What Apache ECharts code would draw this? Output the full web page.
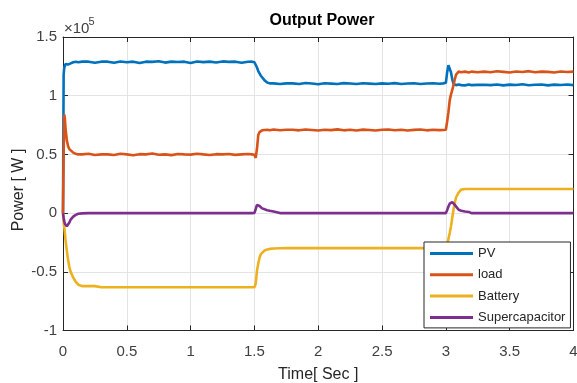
<!DOCTYPE html>
<html>
<head>
<meta charset="utf-8">
<script src="https://cdn.jsdelivr.net/npm/echarts@6/dist/echarts.min.js"></script>
<style>
  html, body { margin: 0; padding: 0; background: #ffffff; }
  #chart { width: 577px; height: 383px; }
</style>
</head>
<body>
<div id="chart"></div>
<script>
// Simulation time (s): start-up, 1.5 s load step, 3.0 s load step
const timeSec = [
  0, 0.005, 0.01, 0.015, 0.02, 0.03, 0.04, 0.05, 0.06, 0.08, 0.1, 0.12, 0.15, 0.2, 0.25, 0.3,
  0.35, 0.4, 0.45, 0.5, 0.55, 0.6, 0.65, 0.7, 0.75, 0.8, 0.85, 0.9, 0.95, 1.0, 1.05, 1.1, 1.15, 1.2, 1.25, 1.3, 1.35, 1.4, 1.45,
  1.48, 1.5, 1.51, 1.52, 1.53, 1.54, 1.55, 1.56, 1.58, 1.6, 1.62, 1.65, 1.7, 1.75,
  1.8, 1.85, 1.9, 1.95, 2.0, 2.05, 2.1, 2.15, 2.2, 2.25, 2.3, 2.35, 2.4, 2.45, 2.5, 2.55, 2.6, 2.65, 2.7, 2.75, 2.8, 2.85, 2.9, 2.95,
  2.98, 3.0, 3.01, 3.02, 3.03, 3.04, 3.05, 3.06, 3.07, 3.08, 3.1, 3.12, 3.15, 3.18, 3.2, 3.25,
  3.3, 3.35, 3.4, 3.45, 3.5, 3.55, 3.6, 3.65, 3.7, 3.75, 3.8, 3.85, 3.9, 3.95, 4.0
];

// Powers in units of 1e5 W
const pvPower = [
  0, 1.18, 1.24, 1.25, 1.27, 1.26, 1.265, 1.27, 1.275, 1.285, 1.29, 1.285, 1.29, 1.29, 1.28, 1.29,
  1.29, 1.28, 1.292, 1.285, 1.29, 1.278, 1.29, 1.288, 1.293, 1.282, 1.29, 1.287, 1.29, 1.279, 1.291, 1.286, 1.29, 1.283, 1.292, 1.288, 1.29, 1.28, 1.289,
  1.29, 1.285, 1.27, 1.24, 1.21, 1.19, 1.17, 1.155, 1.13, 1.112, 1.105, 1.105, 1.1, 1.105,
  1.105, 1.1, 1.108, 1.104, 1.098, 1.106, 1.103, 1.1, 1.107, 1.104, 1.099, 1.106, 1.103, 1.1, 1.105, 1.102, 1.107, 1.1, 1.104, 1.106, 1.099, 1.104, 1.106, 1.102,
  1.105, 1.11, 1.2, 1.26, 1.245, 1.2, 1.14, 1.1, 1.085, 1.09, 1.095, 1.09, 1.088, 1.095, 1.09, 1.092,
  1.093, 1.09, 1.096, 1.088, 1.094, 1.091, 1.097, 1.089, 1.093, 1.095, 1.088, 1.094, 1.091, 1.096, 1.09
];

const loadPower = [
  0, 0.5, 0.84, 0.8, 0.72, 0.62, 0.57, 0.545, 0.53, 0.515, 0.505, 0.5, 0.5, 0.505, 0.495, 0.5,
  0.5, 0.495, 0.505, 0.5, 0.493, 0.502, 0.5, 0.507, 0.497, 0.5, 0.494, 0.503, 0.5, 0.498, 0.506, 0.5, 0.495, 0.502, 0.5, 0.504, 0.496, 0.5, 0.503,
  0.5, 0.497, 0.47, 0.55, 0.665, 0.69, 0.7, 0.705, 0.708, 0.71, 0.705, 0.712, 0.706, 0.71,
  0.71, 0.705, 0.712, 0.708, 0.703, 0.71, 0.707, 0.713, 0.705, 0.71, 0.704, 0.711, 0.708, 0.703, 0.71, 0.712, 0.706, 0.71, 0.704, 0.709, 0.712, 0.705, 0.71, 0.707,
  0.708, 0.71, 0.78, 0.86, 0.96, 1.01, 1.05, 1.09, 1.14, 1.18, 1.205, 1.2, 1.205, 1.198, 1.205, 1.2,
  1.205, 1.2, 1.208, 1.203, 1.198, 1.206, 1.202, 1.209, 1.2, 1.205, 1.203, 1.198, 1.206, 1.202, 1.205
];

const batteryPower = [
  0, -0.08, -0.12, -0.17, -0.23, -0.32, -0.4, -0.46, -0.5, -0.55, -0.585, -0.61, -0.622, -0.622, -0.622, -0.632,
  -0.632, -0.632, -0.632, -0.632, -0.632, -0.632, -0.632, -0.632, -0.632, -0.632, -0.632, -0.632, -0.632, -0.632, -0.632, -0.632, -0.632, -0.632, -0.632, -0.632, -0.632, -0.632, -0.632,
  -0.632, -0.632, -0.6, -0.49, -0.43, -0.38, -0.35, -0.335, -0.318, -0.31, -0.305, -0.302, -0.3, -0.298,
  -0.298, -0.298, -0.298, -0.298, -0.298, -0.298, -0.298, -0.298, -0.298, -0.298, -0.298, -0.298, -0.298, -0.298, -0.298, -0.298, -0.298, -0.298, -0.298, -0.298, -0.298, -0.298, -0.298, -0.298,
  -0.298, -0.298, -0.27, -0.22, -0.17, -0.114, -0.04, 0.03, 0.088, 0.135, 0.175, 0.2, 0.205, 0.205, 0.205, 0.205,
  0.205, 0.205, 0.205, 0.205, 0.205, 0.205, 0.205, 0.205, 0.205, 0.205, 0.205, 0.205, 0.205, 0.205, 0.205
];

const supercapPower = [
  0, -0.04, -0.07, -0.09, -0.1, -0.112, -0.11, -0.08, -0.055, -0.03, -0.015, -0.006, -0.002, 0, 0, 0,
  0, 0, 0, 0, 0, 0, 0, 0, 0, 0, 0, 0, 0, 0, 0, 0, 0, 0, 0, 0, 0, 0, 0,
  0, 0.002, 0.035, 0.07, 0.085, 0.06, 0.046, 0.04, 0.032, 0.025, 0.02, 0.014, 0, 0,
  0, 0, 0, 0, 0, 0, 0, 0, 0, 0, 0, 0, 0, 0, 0, 0, 0, 0, 0, 0, 0, 0, 0, 0,
  0, 0, 0.025, 0.056, 0.08, 0.09, 0.094, 0.085, 0.07, 0.056, 0.028, 0.02, 0.014, 0.01, 0, 0,
  0, 0, 0, 0, 0, 0, 0, 0, 0, 0, 0, 0, 0, 0, 0
];

const seriesNames = ['PV', 'load', 'Battery', 'Supercapacitor'];
const seriesColors = ['#0072BD', '#D95319', '#EDB120', '#7E2F8E'];
const seriesValues = [pvPower, loadPower, batteryPower, supercapPower];

const FONT = '"Liberation Sans", Arial, Helvetica, sans-serif';
const AXIS = '#262626';
const LABEL = '#404040';
const GRIDLINE = '#e4e4e4';

const chart = echarts.init(document.getElementById('chart'), null, { renderer: 'canvas' });

function boxAxis(extra) {
  return Object.assign({
    type: 'value',
    axisLine: { show: true, onZero: false, lineStyle: { color: AXIS, width: 1 } },
    axisTick: { show: true, inside: true, length: 5, lineStyle: { color: AXIS, width: 1 } },
    axisLabel: { show: false },
    splitLine: { show: false }
  }, extra);
}

const option = {
  animation: false,
  backgroundColor: '#ffffff',
  textStyle: { fontFamily: FONT },
  grid: { left: 63, right: 3.5, top: 37, bottom: 52.5, containLabel: false, outerBoundsMode: 'none' },
  xAxis: [
    boxAxis({
      min: 0, max: 4, interval: 0.5, position: 'bottom',
      axisLabel: { show: true, color: LABEL, fontSize: 15, margin: 14, fontFamily: FONT },
      splitLine: { show: true, lineStyle: { color: GRIDLINE, width: 1 } },
      name: 'Time[ Sec ]', nameLocation: 'middle', nameGap: 36,
      nameTextStyle: { color: AXIS, fontSize: 16, fontFamily: FONT }
    }),
    boxAxis({ min: 0, max: 4, interval: 0.5, position: 'top' })
  ],
  yAxis: [
    boxAxis({
      min: -1, max: 1.5, interval: 0.5, position: 'left',
      axisLabel: { show: true, color: LABEL, fontSize: 15, margin: 6, fontFamily: FONT },
      splitLine: { show: true, lineStyle: { color: GRIDLINE, width: 1 } }
    }),
    boxAxis({ min: -1, max: 1.5, interval: 0.5, position: 'right' })
  ],
  legend: {
    orient: 'vertical',
    left: 424, top: 242,
    padding: [4, 5, 3, 6],
    itemWidth: 43, itemHeight: 3, itemGap: 6.3,
    icon: 'rect',
    backgroundColor: '#ffffff',
    borderColor: AXIS, borderWidth: 1, borderRadius: 0,
    textStyle: { fontSize: 13, color: AXIS, lineHeight: 15, fontFamily: FONT },
    data: seriesNames
  },
  graphic: [
    {
      type: 'text', x: 322, y: 21,
      style: { text: 'Output Power', align: 'center', verticalAlign: 'middle', fill: '#000000',
               font: 'bold 16px ' + FONT }
    },
    {
      type: 'text', x: 19, y: 190, rotation: Math.PI / 2,
      style: { text: 'Power [ W ]', align: 'center', verticalAlign: 'middle', fill: AXIS,
               font: '16px ' + FONT }
    },
    {
      type: 'text', x: 64, y: 21,
      style: { text: '×10', fill: LABEL, font: '15px ' + FONT }
    },
    {
      type: 'text', x: 88.5, y: 16,
      style: { text: '5', fill: LABEL, font: '11px ' + FONT }
    }
  ],
  series: seriesNames.map((name, k) => ({
    name: name,
    type: 'line',
    xAxisIndex: 0,
    yAxisIndex: 0,
    showSymbol: false,
    symbol: 'none',
    smooth: false,
    lineStyle: { color: seriesColors[k], width: 2.6 },
    itemStyle: { color: seriesColors[k] },
    data: timeSec.map((t, i) => [t, seriesValues[k][i]])
  }))
};

chart.setOption(option);
</script>
</body>
</html>
